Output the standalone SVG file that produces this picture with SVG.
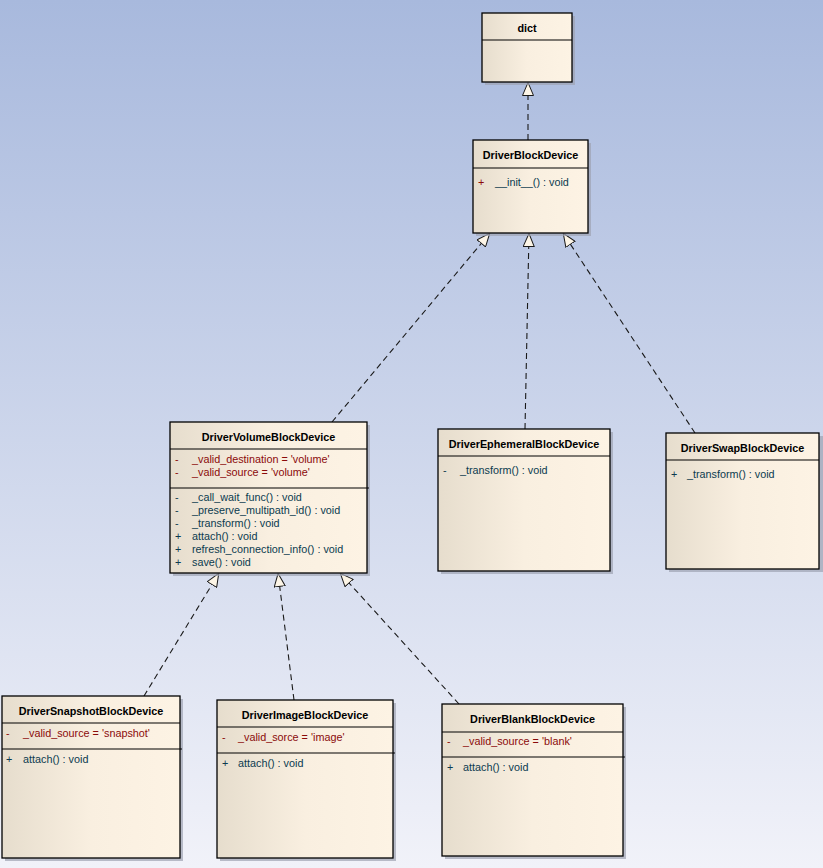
<svg xmlns="http://www.w3.org/2000/svg" width="823" height="868" viewBox="0 0 823 868">
<defs>
<linearGradient id="bg" x1="0" y1="0" x2="0" y2="1">
<stop offset="0" stop-color="#a8b9dd"/>
<stop offset="1" stop-color="#f1f2f9"/>
</linearGradient>
<linearGradient id="boxfill" x1="0" y1="0" x2="1" y2="0">
<stop offset="0" stop-color="#e6ddcd"/>
<stop offset="0.5" stop-color="#f9efe0"/>
<stop offset="1" stop-color="#fdf3e4"/>
</linearGradient>
<marker id="tri" viewBox="0 0 14 12" refX="14" refY="6" markerWidth="14" markerHeight="12" markerUnits="userSpaceOnUse" orient="auto">
<path d="M0.5,0.5 L13.5,6 L0.5,11.5 Z" fill="#fdf5e6" stroke="#1a1a1a" stroke-width="1" stroke-dasharray="none"/>
</marker>
<style>
.shadow{fill:#9ea3b2;opacity:0.7}
.box{fill:url(#boxfill);stroke:#000;stroke-width:1.3}
.div{stroke:#000;stroke-width:1.1}
.name{font-family:"Liberation Sans",Arial,sans-serif;font-size:10.8px;font-weight:bold;fill:#000;text-anchor:middle}
.attr{font-family:"Liberation Sans",Arial,sans-serif;font-size:10.8px;fill:#8b0a0a}
.meth{font-family:"Liberation Sans",Arial,sans-serif;font-size:10.8px;fill:#0b3b4f}
.conn line{stroke:#1a1a1a;stroke-width:1.1;stroke-dasharray:6,4;fill:none;marker-end:url(#tri)}
</style>
</defs>
<rect x="0" y="0" width="823" height="868" fill="url(#bg)"/>

<g id="connectors" class="conn">
<line x1="528" y1="140" x2="528" y2="82"/>
<line x1="332" y1="422" x2="490" y2="233"/>
<line x1="525" y1="429" x2="529" y2="233"/>
<line x1="695" y1="433" x2="563" y2="233"/>
<line x1="144" y1="696" x2="219" y2="573"/>
<line x1="294" y1="700" x2="278" y2="573"/>
<line x1="459" y1="704" x2="340" y2="573"/>
</g>

<g id="dict">
<rect class="shadow" x="485" y="16" width="90" height="69"/>
<rect class="box" x="482" y="13" width="90" height="69"/>
<line class="div" x1="482" y1="40" x2="572" y2="40"/>
<text class="name" x="527" y="32">dict</text>
</g>

<g id="DriverBlockDevice">
<rect class="shadow" x="476" y="143" width="115" height="93"/>
<rect class="box" x="473" y="140" width="115" height="93"/>
<line class="div" x1="473" y1="168" x2="588" y2="168"/>
<text class="name" x="530.5" y="159">DriverBlockDevice</text>
<text class="attr" x="478" y="186">+</text>
<text class="meth" x="495" y="186">__init__() : void</text>
</g>

<g id="DriverVolumeBlockDevice">
<rect class="shadow" x="173" y="425" width="197" height="151"/>
<rect class="box" x="170" y="422" width="197" height="151"/>
<line class="div" x1="170" y1="449" x2="367" y2="449"/>
<line class="div" x1="170" y1="488" x2="369" y2="488"/>
<text class="name" x="268.5" y="441">DriverVolumeBlockDevice</text>
<text class="attr" x="175" y="463">-</text>
<text class="attr" x="192" y="463">_valid_destination = 'volume'</text>
<text class="attr" x="175" y="476">-</text>
<text class="attr" x="192" y="476">_valid_source = 'volume'</text>
<text class="meth" x="175" y="501">-</text>
<text class="meth" x="192" y="501">_call_wait_func() : void</text>
<text class="meth" x="175" y="514">-</text>
<text class="meth" x="192" y="514">_preserve_multipath_id() : void</text>
<text class="meth" x="175" y="527">-</text>
<text class="meth" x="192" y="527">_transform() : void</text>
<text class="meth" x="175" y="540">+</text>
<text class="meth" x="192" y="540">attach() : void</text>
<text class="meth" x="175" y="553">+</text>
<text class="meth" x="192" y="553">refresh_connection_info() : void</text>
<text class="meth" x="175" y="566">+</text>
<text class="meth" x="192" y="566">save() : void</text>
</g>

<g id="DriverEphemeralBlockDevice">
<rect class="shadow" x="441" y="432" width="172" height="142"/>
<rect class="box" x="438" y="429" width="172" height="142"/>
<line class="div" x1="438" y1="456" x2="610" y2="456"/>
<text class="name" x="524" y="448">DriverEphemeralBlockDevice</text>
<text class="meth" x="443" y="474">-</text>
<text class="meth" x="460" y="474">_transform() : void</text>
</g>

<g id="DriverSwapBlockDevice">
<rect class="shadow" x="669" y="436" width="154" height="136"/>
<rect class="box" x="666" y="433" width="153" height="136"/>
<line class="div" x1="666" y1="460" x2="819" y2="460"/>
<text class="name" x="742.5" y="452">DriverSwapBlockDevice</text>
<text class="meth" x="671" y="478">+</text>
<text class="meth" x="687" y="478">_transform() : void</text>
</g>

<g id="DriverSnapshotBlockDevice">
<rect class="shadow" x="5" y="699" width="178" height="162"/>
<rect class="box" x="2" y="696" width="178" height="162"/>
<line class="div" x1="2" y1="723" x2="180" y2="723"/>
<line class="div" x1="2" y1="749" x2="182" y2="749"/>
<text class="name" x="91" y="715">DriverSnapshotBlockDevice</text>
<text class="attr" x="6" y="737">-</text>
<text class="attr" x="23" y="737">_valid_source = 'snapshot'</text>
<text class="meth" x="6" y="763">+</text>
<text class="meth" x="23" y="763">attach() : void</text>
</g>

<g id="DriverImageBlockDevice">
<rect class="shadow" x="220" y="703" width="176" height="158"/>
<rect class="box" x="217" y="700" width="176" height="158"/>
<line class="div" x1="217" y1="727" x2="393" y2="727"/>
<line class="div" x1="217" y1="753" x2="395" y2="753"/>
<text class="name" x="305" y="719">DriverImageBlockDevice</text>
<text class="attr" x="222" y="741">-</text>
<text class="attr" x="238" y="741">_valid_sorce = 'image'</text>
<text class="meth" x="222" y="767">+</text>
<text class="meth" x="238" y="767">attach() : void</text>
</g>

<g id="DriverBlankBlockDevice">
<rect class="shadow" x="445" y="707" width="181" height="152"/>
<rect class="box" x="442" y="704" width="181" height="152"/>
<line class="div" x1="442" y1="732" x2="623" y2="732"/>
<line class="div" x1="442" y1="757" x2="625" y2="757"/>
<text class="name" x="532.5" y="723">DriverBlankBlockDevice</text>
<text class="attr" x="447" y="745">-</text>
<text class="attr" x="463" y="745">_valid_source = 'blank'</text>
<text class="meth" x="447" y="771">+</text>
<text class="meth" x="463" y="771">attach() : void</text>
</g>
</svg>
